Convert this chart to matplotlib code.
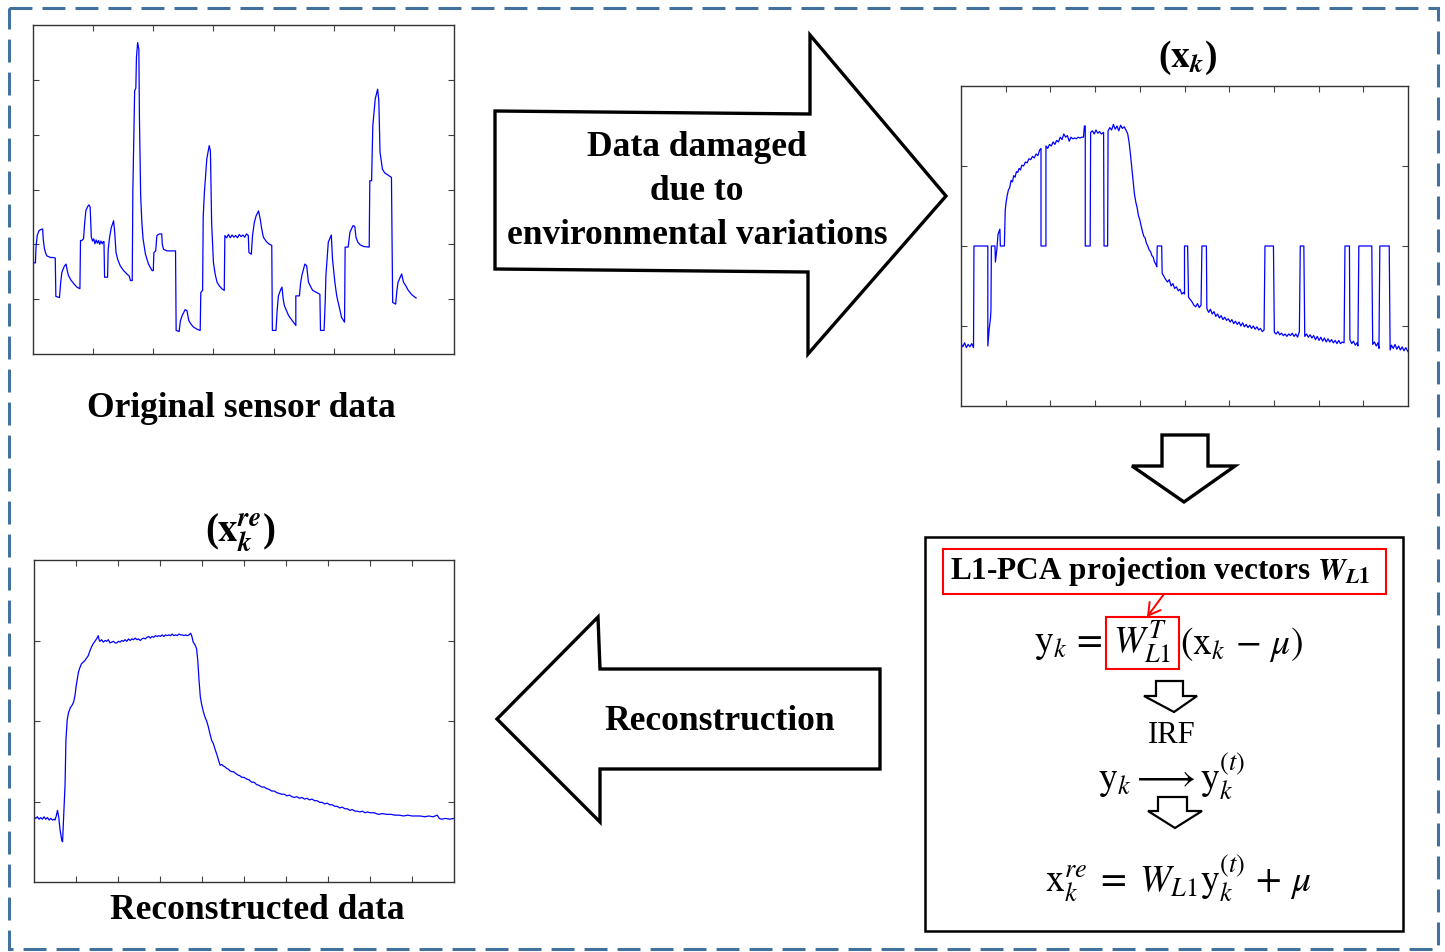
import numpy as np
import matplotlib
matplotlib.use("Agg")
import matplotlib.pyplot as plt
from matplotlib.patches import Polygon, Rectangle, FancyArrowPatch

plt.rcParams['font.family'] = ['Liberation Serif', 'DejaVu Serif']
plt.rcParams['mathtext.fontset'] = 'stix'

# ---------------- data ----------------
original_points = [
    (0.00,1.67),(0.04,1.66),(0.05,1.95),(0.07,2.16),(0.10,2.25),(0.13,2.27),(0.16,2.28),(0.17,2.10),(0.19,1.92),
    (0.21,1.84),(0.23,1.79),(0.29,1.76),(0.33,1.76),(0.37,1.75),(0.38,1.05),(0.44,1.03),(0.46,1.30),(0.48,1.49),
    (0.52,1.60),(0.55,1.64),(0.57,1.52),(0.59,1.43),(0.63,1.35),(0.68,1.28),(0.73,1.22),(0.78,1.19),(0.79,2.07),
    (0.81,2.07),(0.84,2.10),(0.86,2.40),(0.88,2.62),(0.91,2.69),(0.93,2.72),(0.95,2.68),(0.96,2.40),(0.97,2.13),
    (0.99,2.06),(1.01,2.10),(1.03,2.01),(1.05,2.08),(1.07,2.02),(1.09,2.07),(1.11,2.00),(1.13,2.06),(1.15,2.01),
    (1.17,2.05),(1.18,2.05),(1.19,1.40),(1.24,1.40),(1.25,1.90),(1.27,2.10),(1.30,2.30),(1.34,2.43),(1.36,2.20),
    (1.38,1.85),(1.41,1.72),(1.45,1.61),(1.50,1.53),(1.56,1.46),(1.60,1.42),(1.62,1.34),(1.65,1.34),(1.66,2.95),
    (1.69,4.80),(1.71,4.85),(1.72,5.41),(1.74,5.68),(1.75,5.62),(1.76,5.56),(1.77,4.29),(1.79,2.89),(1.81,2.40),
    (1.83,2.10),(1.87,1.82),(1.92,1.64),(1.98,1.52),(2.00,1.52),(2.01,1.85),(2.04,1.88),(2.06,2.16),(2.10,2.19),
    (2.14,2.19),(2.15,2.00),(2.17,1.91),(2.23,1.88),(2.30,1.88),(2.37,1.88),(2.38,0.43),(2.43,0.41),(2.45,0.60),
    (2.48,0.70),(2.53,0.81),(2.56,0.79),(2.59,0.61),(2.63,0.54),(2.67,0.49),(2.73,0.45),(2.78,0.43),(2.79,1.12),
    (2.82,1.16),(2.83,2.50),(2.85,2.95),(2.89,3.56),(2.93,3.80),(2.95,3.70),(2.96,3.00),(2.97,2.40),(3.00,1.67),
    (3.03,1.45),(3.06,1.31),(3.10,1.24),(3.14,1.19),(3.18,1.16),(3.19,2.16),(3.22,2.12),(3.25,2.18),(3.28,2.12),
    (3.31,2.17),(3.34,2.13),(3.37,2.16),(3.40,2.12),(3.43,2.18),(3.46,2.14),(3.49,2.17),(3.52,2.13),(3.55,2.19),
    (3.58,2.16),(3.59,1.85),(3.63,1.82),(3.65,2.16),(3.68,2.40),(3.71,2.52),(3.75,2.61),(3.78,2.45),(3.80,2.30),
    (3.83,2.13),(3.88,2.05),(3.92,2.01),(3.97,1.98),(3.98,0.43),(4.04,0.43),(4.06,0.80),(4.08,1.06),(4.12,1.18),
    (4.14,1.22),(4.16,1.00),(4.18,0.88),(4.25,0.70),(4.33,0.58),(4.37,0.52),(4.37,1.06),(4.43,1.06),(4.45,1.30),
    (4.47,1.43),(4.52,1.64),(4.55,1.61),(4.58,1.31),(4.62,1.22),(4.65,1.16),(4.72,1.12),(4.77,1.09),(4.78,0.43),
    (4.84,0.43),(4.86,1.00),(4.87,1.43),(4.91,2.04),(4.94,2.12),(4.96,2.17),(4.98,1.73),(5.02,1.30),(5.05,1.06),
    (5.10,0.82),(5.13,0.67),(5.18,0.58),(5.19,1.95),(5.24,1.95),(5.27,2.22),(5.32,2.34),(5.35,2.33),(5.37,2.13),
    (5.40,2.04),(5.44,1.99),(5.50,1.96),(5.59,1.95),(5.60,3.16),(5.63,3.16),(5.65,4.16),(5.69,4.65),(5.73,4.83),
    (5.75,4.62),(5.77,3.68),(5.81,3.37),(5.85,3.30),(5.88,3.28),(5.96,3.22),(5.98,0.94),(6.03,0.91),(6.05,1.15),
    (6.07,1.31),(6.13,1.46),(6.16,1.31),(6.20,1.24),(6.24,1.16),(6.30,1.08),(6.37,1.02)]

damaged_points = [
    (0.00,0.78),(0.04,0.74),(0.08,0.79),(0.12,0.73),(0.16,0.77),(0.20,0.74),(0.24,0.78),(0.28,0.73),(0.29,2.00),
    (0.60,2.00),(0.60,0.75),(0.63,0.96),(0.66,1.10),(0.67,1.20),(0.68,2.00),(0.76,2.00),(0.77,1.80),(0.80,1.95),
    (0.83,2.15),(0.87,2.21),(0.88,2.00),(0.97,2.00),(0.99,2.45),(1.01,2.55),(1.03,2.62),(1.06,2.70),(1.09,2.73),
    (1.12,2.82),(1.15,2.80),(1.18,2.88),(1.21,2.86),(1.24,2.93),(1.27,2.92),(1.30,2.97),(1.33,2.95),(1.36,3.01),
    (1.40,3.00),(1.44,3.05),(1.48,3.04),(1.52,3.09),(1.56,3.08),(1.60,3.12),(1.64,3.10),(1.68,3.15),(1.72,3.13),
    (1.76,3.20),(1.79,3.22),(1.79,2.00),(1.90,2.00),(1.90,3.25),(1.94,3.22),(1.98,3.27),(2.02,3.25),(2.06,3.30),
    (2.10,3.27),(2.14,3.32),(2.18,3.30),(2.22,3.36),(2.26,3.33),(2.30,3.40),(2.34,3.36),(2.38,3.38),(2.42,3.31),
    (2.46,3.36),(2.50,3.34),(2.54,3.35),(2.58,3.34),(2.62,3.36),(2.66,3.35),(2.70,3.36),(2.74,3.36),(2.76,3.50),
    (2.78,3.50),(2.78,2.00),(2.89,2.00),(2.90,3.42),(2.94,3.44),(2.98,3.40),(3.02,3.45),(3.06,3.41),(3.10,3.43),
    (3.14,3.40),(3.19,3.42),(3.20,2.00),(3.28,2.00),(3.29,3.44),(3.33,3.48),(3.37,3.45),(3.41,3.52),(3.45,3.46),
    (3.49,3.50),(3.53,3.44),(3.57,3.51),(3.61,3.47),(3.65,3.49),(3.69,3.45),(3.73,3.40),(3.76,3.30),(3.79,3.15),
    (3.82,2.98),(3.85,2.80),(3.88,2.65),(3.91,2.55),(3.94,2.48),(3.97,2.38),(4.00,2.33),(4.03,2.25),(4.06,2.18),
    (4.09,2.12),(4.12,2.10),(4.15,2.03),(4.18,2.00),(4.21,1.95),(4.24,1.93),(4.27,1.88),(4.30,1.86),(4.33,1.80),
    (4.36,1.77),(4.38,1.74),(4.39,2.00),(4.49,2.00),(4.50,1.66),(4.54,1.62),(4.58,1.58),(4.62,1.55),(4.66,1.58),
    (4.70,1.50),(4.74,1.53),(4.78,1.47),(4.82,1.49),(4.86,1.44),(4.90,1.46),(4.94,1.40),(4.98,1.42),(5.00,1.40),
    (5.00,2.00),(5.07,2.00),(5.09,1.36),(5.13,1.33),(5.17,1.30),(5.21,1.26),(5.25,1.24),(5.29,1.28),(5.33,1.23),
    (5.37,1.26),(5.39,2.00),(5.49,2.00),(5.50,1.22),(5.54,1.17),(5.58,1.21),(5.62,1.15),(5.66,1.18),(5.70,1.12),
    (5.74,1.15),(5.78,1.10),(5.82,1.13),(5.86,1.08),(5.90,1.11),(5.94,1.07),(5.98,1.09),(6.02,1.05),(6.06,1.08),
    (6.10,1.03),(6.14,1.06),(6.18,1.02),(6.22,1.05),(6.26,1.00),(6.30,1.04),(6.34,0.99),(6.38,1.02),(6.42,0.98),
    (6.46,1.01),(6.50,0.97),(6.54,1.00),(6.58,0.96),(6.62,0.99),(6.66,0.95),(6.70,0.97),(6.74,0.93),(6.78,0.95),
    (6.80,2.00),(6.99,2.00),(7.01,0.92),(7.05,0.90),(7.09,0.93),(7.13,0.89),(7.17,0.91),(7.21,0.88),(7.25,0.90),
    (7.29,0.87),(7.33,0.90),(7.37,0.88),(7.41,0.91),(7.45,0.87),(7.49,0.90),(7.53,0.86),(7.57,0.93),(7.59,2.00),
    (7.67,2.00),(7.69,0.87),(7.73,0.90),(7.77,0.86),(7.81,0.89),(7.85,0.85),(7.89,0.88),(7.93,0.83),(7.97,0.87),
    (8.01,0.82),(8.05,0.86),(8.09,0.81),(8.13,0.85),(8.17,0.80),(8.21,0.84),(8.25,0.80),(8.29,0.83),(8.33,0.79),
    (8.37,0.82),(8.41,0.78),(8.45,0.82),(8.49,0.78),(8.53,0.80),(8.57,0.79),(8.59,2.00),(8.69,2.00),(8.70,0.83),
    (8.74,0.78),(8.78,0.81),(8.82,0.76),(8.86,0.79),(8.88,0.75),(8.90,2.00),(9.19,2.00),(9.21,0.77),(9.25,0.80),
    (9.29,0.75),(9.33,0.79),(9.35,0.72),(9.37,2.00),(9.58,2.00),(9.60,0.70),(9.63,0.76),(9.67,0.72),(9.71,0.77),
    (9.75,0.71),(9.79,0.75),(9.83,0.70),(9.87,0.74),(9.91,0.69),(9.95,0.73),(10.0,0.68)]

reconstructed_points = [
    (0.00,0.81),(0.04,0.79),(0.08,0.81),(0.12,0.78),(0.16,0.80),(0.20,0.78),(0.24,0.81),(0.28,0.78),(0.32,0.80),
    (0.36,0.77),(0.40,0.79),(0.44,0.77),(0.48,0.78),(0.50,0.77),(0.53,0.82),(0.56,0.89),(0.59,0.80),(0.62,0.65),
    (0.66,0.52),(0.68,0.50),(0.70,0.75),(0.71,0.90),(0.74,1.22),(0.76,1.76),(0.79,2.01),(0.82,2.10),(0.84,2.13),
    (0.87,2.17),(0.90,2.19),(0.93,2.22),(0.95,2.25),(0.98,2.33),(1.00,2.42),(1.03,2.52),(1.06,2.61),(1.09,2.66),
    (1.13,2.71),(1.17,2.73),(1.21,2.75),(1.25,2.78),(1.29,2.81),(1.33,2.87),(1.37,2.92),(1.41,2.96),(1.45,2.99),
    (1.49,3.02),(1.53,3.06),(1.55,3.01),(1.57,2.99),(1.61,3.01),(1.65,2.98),(1.69,3.00),(1.73,2.99),(1.77,3.01),
    (1.81,2.97),(1.85,2.98),(1.89,2.99),(1.93,2.97),(1.97,2.97),(2.01,2.99),(2.05,2.98),(2.09,3.00),(2.13,2.99),
    (2.17,3.01),(2.21,2.99),(2.25,3.02),(2.29,3.00),(2.33,3.02),(2.37,3.01),(2.41,3.03),(2.45,3.01),(2.49,3.02),
    (2.53,3.00),(2.57,3.02),(2.61,3.03),(2.65,3.02),(2.69,3.04),(2.73,3.05),(2.77,3.03),(2.81,3.05),(2.85,3.04),
    (2.89,3.06),(2.93,3.05),(2.97,3.06),(3.01,3.05),(3.05,3.07),(3.09,3.05),(3.13,3.07),(3.17,3.06),(3.21,3.07),
    (3.25,3.06),(3.29,3.08),(3.33,3.06),(3.37,3.07),(3.41,3.06),(3.45,3.08),(3.49,3.07),(3.53,3.07),(3.57,3.06),
    (3.61,3.07),(3.65,3.06),(3.69,3.07),(3.73,3.09),(3.76,3.05),(3.79,2.98),(3.83,2.95),(3.87,2.90),(3.90,2.75),
    (3.93,2.50),(3.96,2.30),(3.99,2.21),(4.03,2.12),(4.07,2.05),(4.11,2.00),(4.15,1.93),(4.19,1.84),(4.23,1.76),
    (4.27,1.72),(4.31,1.65),(4.35,1.59),(4.39,1.52),(4.43,1.45),(4.47,1.46),(4.51,1.44),(4.55,1.43),(4.59,1.41),
    (4.63,1.40),(4.67,1.38),(4.71,1.37),(4.75,1.37),(4.80,1.35),(4.85,1.33),(4.90,1.32),(4.95,1.30),(5.00,1.30),
    (5.06,1.28),(5.12,1.27),(5.18,1.24),(5.24,1.24),(5.30,1.21),(5.36,1.20),(5.42,1.18),(5.48,1.18),(5.54,1.16),
    (5.60,1.15),(5.66,1.13),(5.72,1.13),(5.78,1.11),(5.84,1.10),(5.90,1.09),(5.96,1.09),(6.02,1.07),(6.08,1.08),
    (6.14,1.06),(6.20,1.05),(6.26,1.06),(6.32,1.04),(6.38,1.05),(6.44,1.03),(6.50,1.04),(6.56,1.02),(6.62,1.03),
    (6.68,1.01),(6.74,1.01),(6.80,0.99),(6.86,0.99),(6.92,0.97),(6.98,0.98),(7.04,0.96),(7.10,0.96),(7.16,0.94),
    (7.22,0.94),(7.28,0.92),(7.34,0.93),(7.40,0.91),(7.46,0.91),(7.52,0.89),(7.58,0.90),(7.64,0.88),(7.70,0.88),
    (7.76,0.87),(7.82,0.88),(7.88,0.86),(7.94,0.87),(8.00,0.86),(8.10,0.86),(8.20,0.84),(8.30,0.85),(8.40,0.84),
    (8.50,0.84),(8.60,0.83),(8.70,0.83),(8.80,0.82),(8.90,0.83),(9.00,0.82),(9.10,0.82),(9.20,0.82),(9.30,0.81),
    (9.40,0.82),(9.50,0.81),(9.60,0.83),(9.65,0.79),(9.70,0.78),(9.80,0.79),(9.90,0.78),(10.0,0.79)]

original_title = "Original sensor data"
damaged_title = r"($\mathbf{x}_{\mathbfit{k}}$)"
recon_title = r"($\mathbf{x}_{\mathbfit{k}}^{\mathbfit{re}}$)"
recon_label = "Reconstructed data"
arrow1_lines = ["Data damaged", "due to", "environmental variations"]
arrow2_text = "Reconstruction"

# ---------------- figure ----------------
W, H = 1445, 953
fig = plt.figure(figsize=(W / 100, H / 100), dpi=100)
bg = fig.add_axes([0, 0, 1, 1])
bg.set_xlim(0, W)
bg.set_ylim(H, 0)
bg.axis('off')

def px_axes(l, t, r, b):
    return fig.add_axes([l / W, 1 - b / H, (r - l) / W, (b - t) / H])

def style(ax, xlim, ylim, xt, yt):
    ax.set_xlim(*xlim)
    ax.set_ylim(*ylim)
    ax.set_xticks(xt)
    ax.set_yticks(yt)
    ax.tick_params(direction='in', length=4, width=0.8, top=True, right=True,
                   labelbottom=False, labelleft=False, colors='#444444')
    for s in ax.spines.values():
        s.set_color('#333333')
        s.set_linewidth(1.0)

blue = '#0000ff'

ax1 = px_axes(33, 26, 454, 355)
p = np.array(original_points)
ax1.plot(p[:, 0], p[:, 1], color=blue, lw=0.9)
style(ax1, (0, 7), (0, 6), range(1, 7), range(1, 6))

ax2 = px_axes(961, 87, 1408, 407)
p = np.array(damaged_points)
ax2.plot(p[:, 0], p[:, 1], color=blue, lw=0.9)
style(ax2, (0, 10), (0, 4), range(1, 10), range(1, 4))

ax3 = px_axes(34, 561, 454, 883)
p = np.array(reconstructed_points)
ax3.plot(p[:, 0], p[:, 1], color=blue, lw=0.9)
style(ax3, (0, 10), (0, 4), range(1, 10), range(1, 4))

# dashed outer border
bg.add_patch(Rectangle((9, 9), 1429, 941, fill=False, edgecolor='#41719c',
                       lw=2.2, linestyle=(0, (7.5, 3.3)), zorder=1))

# big right arrow
bg.add_patch(Polygon([(495, 112), (810, 115), (810, 36), (946, 197), (808, 355),
                      (808, 273), (495, 270)], closed=True, facecolor='white',
                     edgecolor='black', lw=2.4, joinstyle='miter'))
# big left arrow
bg.add_patch(Polygon([(497, 720), (598, 618), (600, 670), (880, 670), (880, 770),
                      (600, 770), (600, 823)], closed=True, facecolor='white',
                     edgecolor='black', lw=2.4, joinstyle='miter'))
# down arrow
bg.add_patch(Polygon([(1162, 436), (1208, 436), (1208, 467), (1235, 467), (1184, 503),
                      (1132, 467), (1162, 467)], closed=True, facecolor='white',
                     edgecolor='black', lw=2.4, joinstyle='miter'))

# formula box
bg.add_patch(Rectangle((925, 538), 478, 394, fill=False, edgecolor='black', lw=1.8))
bg.add_patch(Rectangle((943, 550), 443, 45, fill=False, edgecolor='red', lw=1.5))
bg.add_patch(Rectangle((1106, 618), 73, 52, fill=False, edgecolor='red', lw=1.5))
bg.add_patch(FancyArrowPatch((1164, 595), (1147, 618), arrowstyle='->,head_length=0.6,head_width=0.35',
                             color='red', lw=1.4, mutation_scale=14, shrinkA=0, shrinkB=0))
# small arrows inside
bg.add_patch(Polygon([(1156, 682), (1183, 682), (1183, 697), (1197, 697), (1174, 713),
                      (1144, 697), (1156, 697)], closed=True, facecolor='white',
                     edgecolor='black', lw=1.6, joinstyle='miter'))
bg.add_patch(Polygon([(1158, 798), (1187, 798), (1187, 812), (1202, 812), (1175, 829),
                      (1148, 812), (1158, 812)], closed=True, facecolor='white',
                     edgecolor='black', lw=1.6, joinstyle='miter'))

bold = dict(fontweight='bold', color='black', ha='center', va='center')
bg.text(241, 409, original_title, fontsize=25.5, **bold)
bg.text(257, 911, recon_label, fontsize=25.5, **bold)
bg.text(1188, 58, damaged_title, fontsize=27, **bold)
bg.text(240, 532, recon_title, fontsize=28, **bold)
for txt, yy in zip(arrow1_lines, [148, 192, 236]):
    bg.text(697, yy, txt, fontsize=25.5, **bold)
bg.text(720, 722, arrow2_text, fontsize=25.5, **bold)
bg.text(1160, 572, r"L1-PCA projection vectors $\mathbfit{W}_{\mathbfit{L}\mathbf{1}}$",
        fontsize=22.5, **bold)

mt = dict(color='black', va='center', fontsize=27)
bg.text(1103, 645, r"$\mathrm{y}_k\, =$", ha='right', **mt)
bg.text(1142, 643, r"$W_{L1}^{T}$", ha='center', **mt)
bg.text(1180, 645, r"$(\mathrm{x}_k\, -\, \mu)$", ha='left', **mt)
bg.text(1172, 736, "IRF", ha='center', va='center', fontsize=22)
bg.text(1172, 776, r"$\mathrm{y}_k \longrightarrow \mathrm{y}_k^{(t)}$", ha='center', **mt)
bg.text(1178, 878, r"$\mathrm{x}_k^{re} \;=\; W_{L1}\mathrm{y}_k^{(t)} \,+\, \mu$", ha='center', **mt)

fig.savefig('out.png', dpi=100)
